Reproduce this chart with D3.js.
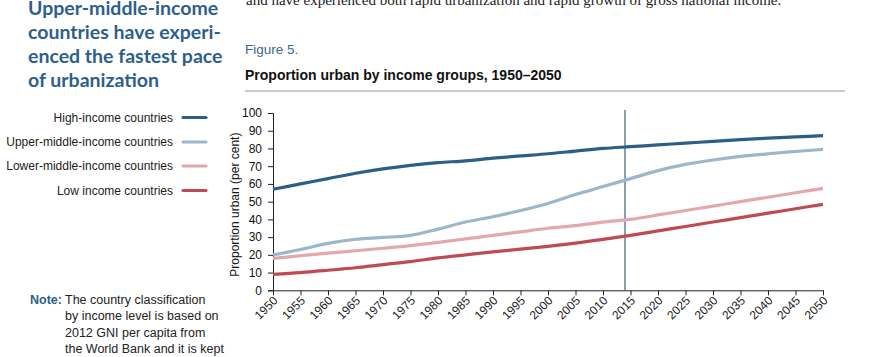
<!DOCTYPE html>
<html><head><meta charset="utf-8">
<script src="https://cdn.jsdelivr.net/npm/d3@7"></script>
<style>
html,body{margin:0;padding:0;background:#fff;}
svg{display:block;}
text{font-family:"Liberation Sans",Arial,sans-serif;}
</style></head>
<body>
<svg id="chart" width="869" height="357"></svg>
<script>
const years = [1950,1955,1960,1965,1970,1975,1980,1985,1990,1995,2000,2005,2010,2015,2020,2025,2030,2035,2040,2045,2050];
const highIncome  = [57,60,63,66,68.5,70.5,72,73,74.5,75.8,77,78.5,80,81,82,83,84,85,85.8,86.5,87.2];
const upperMiddle = [20,23,26.5,28.8,29.8,31,34.5,38.5,41.5,45,49,54,58.5,63,67.5,71,73.5,75.5,77,78.3,79.5];
const lowerMiddle = [18,19.5,21,22.3,23.7,25.2,27,29,31,33,35,36.5,38.5,40,42.5,45,47.5,50,52.5,55,57.5];
const lowIncome   = [9,10,11.3,12.7,14.5,16.2,18.3,20,21.7,23.2,24.8,26.6,28.7,31,33.5,36,38.5,41,43.5,46,48.5];
const seriesNames = ["High-income countries","Upper-middle-income countries","Lower-middle-income countries","Low income countries"];
const seriesColors = ["#2c5f88","#9cb6ca","#e2a8ab","#c04a52"];
const yTicks = [0,10,20,30,40,50,60,70,80,90,100];
const markerYear = 2014;
const headline = ["Upper-middle-income","countries have experi-","enced the fastest pace","of urbanization"];
const noteLines = ["The country classification","by income level is based on","2012 GNI per capita from","the World Bank and it is kept"];
const topText = "and have experienced both rapid urbanization and rapid growth of gross national income.";

const svg = d3.select("#chart");
const x = d3.scaleLinear().domain([1950,2050]).range([273,823]);
const y = d3.scaleLinear().domain([0,100]).range([290.3,113]);

// top clipped body text
svg.append("text").attr("x",246).attr("y",5)
  .style("font-family","'Liberation Serif',serif").style("font-size","15px").attr("fill","#222")
  .text(topText);

// headline
const hl = svg.append("text").attr("x",28).attr("y",15)
  .style("font-family","Lato,'Open Sans',sans-serif").style("font-weight","bold").style("font-size","19.5px").attr("fill","#2d5f8a");
headline.forEach((t,i)=>hl.append("tspan").attr("x",28).attr("y",15+i*24).text(t));

// figure titles
svg.append("text").attr("x",245).attr("y",54).style("font-size","13.5px").attr("fill","#3a6893").text("Figure 5.");
svg.append("text").attr("x",245).attr("y",80).style("font-size","14px").style("font-weight","bold").attr("fill","#111").text("Proportion urban by income groups, 1950\u20132050");
svg.append("line").attr("x1",245).attr("x2",845).attr("y1",91).attr("y2",91).attr("stroke","#8a9aa8").attr("stroke-width",1);

// legend
const legY = [117.5,142,166,190.5];
seriesNames.forEach((n,i)=>{
  svg.append("text").attr("x",173).attr("y",legY[i]).attr("dy","0.35em").attr("text-anchor","end")
    .style("font-size","12px").attr("fill","#222").text(n);
  svg.append("line").attr("x1",183).attr("x2",206).attr("y1",legY[i]).attr("y2",legY[i])
    .attr("stroke",seriesColors[i]).attr("stroke-width",3.2).attr("stroke-linecap","round");
});

// axes
const yAxis = svg.append("g").attr("transform",`translate(${x(1950)},0)`)
  .call(d3.axisLeft(y).tickValues(yTicks).tickSize(5).tickPadding(6).tickFormat(d3.format("d")));
yAxis.selectAll("text").style("font-size","12px").attr("fill","#111");
yAxis.selectAll("line,path").attr("stroke","#222");

const xAxis = svg.append("g").attr("transform",`translate(0,${y(0)})`)
  .call(d3.axisBottom(x).tickValues(years).tickSize(5).tickSizeOuter(0).tickFormat(d3.format("d")));
xAxis.selectAll("line,path").attr("stroke","#222");
xAxis.selectAll("text").style("font-size","12px").attr("fill","#222")
  .attr("text-anchor","end").attr("dy","0").attr("y",0)
  .attr("transform","translate(5,11) rotate(-45)");

svg.append("text").attr("transform",`translate(239,${(y(0)+y(100))/2+3}) rotate(-90)`)
  .attr("text-anchor","middle").style("font-size","12px").attr("fill","#111").text("Proportion urban (per cent)");

// marker line
svg.append("line").attr("x1",x(markerYear)).attr("x2",x(markerYear)).attr("y1",110).attr("y2",y(0))
  .attr("stroke","#3a6287").attr("stroke-width",1.2);

// series lines
const allSeries = [highIncome,upperMiddle,lowerMiddle,lowIncome];
const line = d3.line().x((d,i)=>x(years[i])).y(d=>y(d)).curve(d3.curveMonotoneX);
[3,2,1,0].forEach(i=>{
  svg.append("path").datum(allSeries[i]).attr("d",line).attr("fill","none")
    .attr("stroke",seriesColors[i]).attr("stroke-width",3.2);
});

// note
svg.append("text").attr("x",30).attr("y",303.5).style("font-size","12.5px").style("font-weight","bold").attr("fill","#2d5f8a").text("Note:");
noteLines.forEach((t,i)=>svg.append("text").attr("x",65).attr("y",303.5+i*16.5).style("font-size","12.5px").attr("fill","#222").text(t));
</script>
</body></html>
